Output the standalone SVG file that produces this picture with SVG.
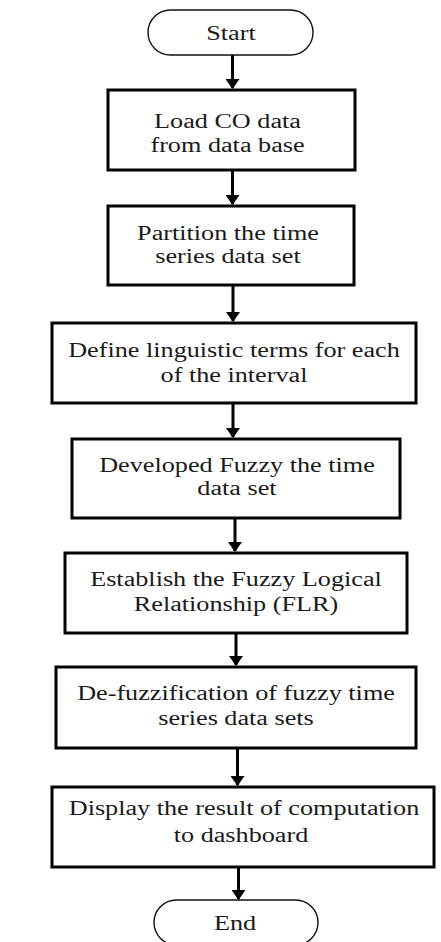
<svg xmlns="http://www.w3.org/2000/svg" width="441" height="942" viewBox="0 0 441 942">
<style>
.box{fill:#fff;stroke:#000;stroke-width:3}
.term{fill:#fff;stroke:#111;stroke-width:1.4}
.t{font-family:"Liberation Serif","Times New Roman",serif;font-size:20px;fill:#1a1a1a;text-anchor:middle}
.c{stroke:#000;stroke-width:3;fill:none;marker-end:url(#ah)}
</style>
<defs>
<marker id="ah" viewBox="0 0 10 14" refX="9" refY="7" markerWidth="10" markerHeight="14" markerUnits="userSpaceOnUse" orient="auto">
<path d="M0,0 L10,7 L0,14 z" fill="#000"/>
</marker>
</defs>
<rect width="441" height="942" fill="#fff"/>
<g id="connectors">
<line class="c" x1="232.5" y1="55" x2="232.5" y2="88"/>
<line class="c" x1="232.5" y1="171" x2="232.5" y2="204"/>
<line class="c" x1="233" y1="286" x2="233" y2="321"/>
<line class="c" x1="233" y1="404" x2="233" y2="437"/>
<line class="c" x1="235" y1="519" x2="235" y2="551"/>
<line class="c" x1="236" y1="634" x2="236" y2="665"/>
<line class="c" x1="237.5" y1="749" x2="237.5" y2="785"/>
<line class="c" x1="238.5" y1="868" x2="238.5" y2="899"/>
</g>
<g id="start">
<rect class="term" x="148" y="10" width="165" height="45" rx="22.5"/>
<g transform="translate(231 0) scale(1.31 1)"><text class="t" x="0" y="40">Start</text></g>
</g>
<g id="n1">
<rect class="box" x="108" y="90" width="247" height="80"/>
<g transform="translate(227.5 0) scale(1.31 1)"><text class="t" x="0" y="128">Load CO data</text><text class="t" x="0" y="152">from data base</text></g>
</g>
<g id="n2">
<rect class="box" x="108" y="206" width="246" height="79"/>
<g transform="translate(228 0) scale(1.31 1)"><text class="t" x="0" y="240">Partition the time</text><text class="t" x="0" y="263">series data set</text></g>
</g>
<g id="n3">
<rect class="box" x="52" y="323" width="364" height="80"/>
<g transform="translate(234 0) scale(1.31 1)"><text class="t" x="0" y="357">Define linguistic terms for each</text><text class="t" x="0" y="382">of the interval</text></g>
</g>
<g id="n4">
<rect class="box" x="72" y="439" width="328" height="79"/>
<g transform="translate(237 0) scale(1.31 1)"><text class="t" x="0" y="472">Developed Fuzzy the time</text><text class="t" x="0" y="495">data set</text></g>
</g>
<g id="n5">
<rect class="box" x="65" y="553" width="342" height="80"/>
<g transform="translate(236 0) scale(1.31 1)"><text class="t" x="0" y="586">Establish the Fuzzy Logical</text><text class="t" x="0" y="611">Relationship (FLR)</text></g>
</g>
<g id="n6">
<rect class="box" x="56" y="667" width="360" height="81"/>
<g transform="translate(236 0) scale(1.31 1)"><text class="t" x="0" y="700">De-fuzzification of fuzzy time</text><text class="t" x="0" y="725">series data sets</text></g>
</g>
<g id="n7">
<rect class="box" x="52" y="787" width="382" height="80"/>
<g transform="translate(244 0) scale(1.31 1)"><text class="t" x="0" y="815">Display the result of computation</text></g>
<g transform="translate(241 0) scale(1.31 1)"><text class="t" x="0" y="842">to dashboard</text></g>
</g>
<g id="end">
<rect class="term" x="154" y="900" width="164" height="45" rx="22.5"/>
<g transform="translate(235 0) scale(1.31 1)"><text class="t" x="0" y="930">End</text></g>
</g>
</svg>
